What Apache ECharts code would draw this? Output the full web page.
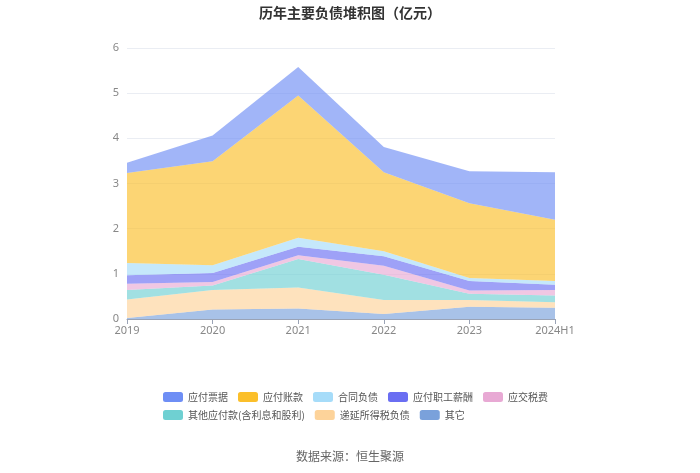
<!DOCTYPE html>
<html>
<head>
<meta charset="utf-8">
<script src="https://cdn.jsdelivr.net/npm/echarts@6/dist/echarts.min.js"></script>
<style>html,body{margin:0;padding:0;background:#fff}#c{width:700px;height:473px}</style>
</head>
<body>
<div id="c"></div>
<script>
var categories = ['2019', '2020', '2021', '2022', '2023', '2024H1'];
var yTicks = [0, 1, 2, 3, 4, 5, 6];

var other      = [0.02, 0.21, 0.23, 0.11, 0.27, 0.25];
var deferredTax= [0.41, 0.43, 0.47, 0.31, 0.15, 0.12];
var otherPay   = [0.21, 0.10, 0.63, 0.56, 0.14, 0.15];
var taxPay     = [0.14, 0.08, 0.08, 0.20, 0.07, 0.12];
var salaryPay  = [0.19, 0.20, 0.19, 0.21, 0.21, 0.12];
var contractL  = [0.27, 0.17, 0.20, 0.11, 0.07, 0.08];
var accountsPay= [1.99, 2.30, 3.15, 1.75, 1.65, 1.36];
var notesPay   = [0.23, 0.57, 0.63, 0.56, 0.71, 1.05];

var names = ['应付票据','应付账款','合同负债','应付职工薪酬','应交税费','其他应付款(含利息和股利)','递延所得税负债','其它'];
var colors = ['#6e8ef5','#fbbf2a','#a6dcf9','#6a6ef2','#e8a9d4','#6fd0d2','#fdd39a','#7aa1db'];
var dataMap = {
  '应付票据': notesPay, '应付账款': accountsPay, '合同负债': contractL,
  '应付职工薪酬': salaryPay, '应交税费': taxPay, '其他应付款(含利息和股利)': otherPay,
  '递延所得税负债': deferredTax, '其它': other
};
var stackOrder = ['其它','递延所得税负债','其他应付款(含利息和股利)','应交税费','应付职工薪酬','合同负债','应付账款','应付票据'];

var series = stackOrder.map(function(n){
  var c = colors[names.indexOf(n)];
  return {
    name: n, type: 'line', stack: 'total', data: dataMap[n],
    symbol: 'none', smooth: false,
    lineStyle: {width: 0, color: c},
    itemStyle: {color: c},
    areaStyle: {color: c, opacity: 0.65}
  };
});

var legendBase = {
  left: 163, itemWidth: 20, itemHeight: 10, itemGap: 10, icon: 'roundRect', padding: 0,
  textStyle: {fontSize: 10, color: '#555', fontFamily: 'Noto Sans CJK SC'}
};

var chart = echarts.init(document.getElementById('c'), null, {renderer: 'canvas'});
chart.setOption({
  animation: false,
  color: colors,
  title: [{
    text: '历年主要负债堆积图（亿元）', left: 'center', top: 1,
    textStyle: {fontSize: 14, fontWeight: 'bold', color: '#333', fontFamily: 'Noto Sans CJK SC'}
  }, {
    text: '数据来源：恒生聚源', left: 'center', top: 445,
    textStyle: {fontSize: 12, fontWeight: 'normal', color: '#666', fontFamily: 'Noto Sans CJK SC'}
  }],
  legend: [
    Object.assign({}, legendBase, {data: names.slice(0, 5), top: 392}),
    Object.assign({}, legendBase, {data: names.slice(5), top: 410})
  ],
  grid: {left: 127, right: 145, top: 48, bottom: 154},
  xAxis: {
    type: 'category', data: categories, boundaryGap: false,
    axisLine: {lineStyle: {color: '#9aa3b5'}},
    axisTick: {show: true, lineStyle: {color: '#9aa3b5'}},
    axisLabel: {color: '#888', fontSize: 11, margin: 6, fontFamily: 'Noto Sans'}
  },
  yAxis: {
    type: 'value', min: yTicks[0], max: yTicks[yTicks.length-1], interval: 1,
    axisLine: {show: false}, axisTick: {show: false},
    axisLabel: {color: '#888', fontSize: 11, margin: 8, fontFamily: 'Noto Sans'},
    splitLine: {lineStyle: {color: '#eaedf3'}}
  },
  series: series
});
</script>
</body>
</html>
